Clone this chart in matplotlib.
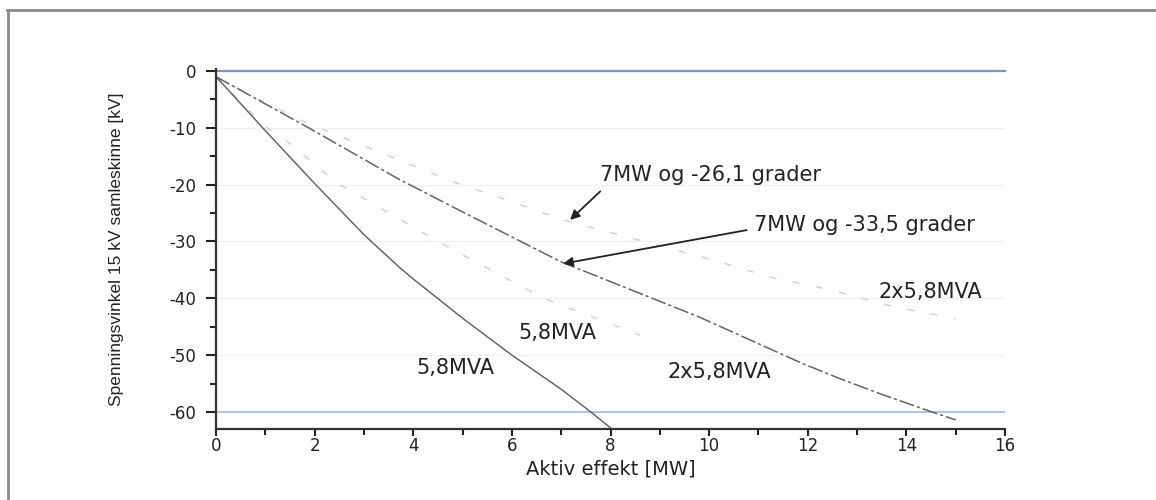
import matplotlib.pyplot as plt
from matplotlib.lines import Line2D
from matplotlib.ticker import MultipleLocator

plt.rcParams["axes.unicode_minus"] = False

#%% data
p_58 = [0, 1, 2, 3, 3.7, 4, 5, 6, 7, 7.6, 8]
v_58 = [-1, -10.5, -19.8, -28.8, -34.4, -36.6, -43.5, -50, -56, -60, -62.8]

p_2x58 = [0, 1.9, 3.7, 5, 7, 9.8, 11.9, 12.7, 13.5, 14.35, 15]
v_2x58 = [-1, -10.1, -19.0, -24.8, -33.6, -43.3, -51.5, -54.3, -56.9, -59.5, -61.4]

# faint red curves
p_58_b = [0, 1.0, 1.4, 2.45, 3.05, 4.5, 6.6, 7.0, 7.8, 8.6]
v_58_b = [-1, -9.8, -12.1, -19.7, -22.7, -30, -39.8, -41.2, -43.8, -46.5]

p_2x58_b = [0, 0.9, 1.7, 2.6, 4.9, 6.0, 7.0, 10.1, 11.2, 12.5, 13.7, 15]
v_2x58_b = [-1, -5.1, -8.6, -11.8, -19.8, -23, -26.1, -33.3, -36.2, -38.6, -41.4, -43.6]

limits = [0, -60]

#%%
fig = plt.figure(figsize=(11.56, 5.0), dpi=100)
ax = fig.add_axes([216/1156, 1 - 429/500, 789/1156, (429 - 69.3)/500])

# scan border
fig.add_artist(Line2D([7/1156, 1], [1 - 10/500, 1 - 10/500], transform=fig.transFigure,
                      color="#8a8a8a", lw=2))
fig.add_artist(Line2D([8/1156, 8/1156], [0, 1 - 10/500], transform=fig.transFigure,
                      color="#8a8a8a", lw=2))

ax.grid(axis="y", color="#f0f0f0", lw=1)
ax.set_axisbelow(True)

ax.axhline(limits[0], color="#6b9bcf", lw=1.6, clip_on=False)
ax.axhline(limits[1], color="#a3c2e0", lw=1.3)

ax.plot(p_2x58_b, v_2x58_b, color="#eab3bb", lw=1, ls=(0, (5, 12)), alpha=0.8)
ax.plot(p_58_b, v_58_b, color="#eab3bb", lw=1, ls=(0, (5, 12)), alpha=0.8)
ax.plot(p_58, v_58, color="#5a5a68", lw=1.0)
ax.plot(p_2x58, v_2x58, color="#62626e", lw=1.1, ls=(0, (10, 2, 2, 2)))

ax.set_xlim(0, 16)
ax.set_ylim(-63, 0.3)
ax.xaxis.set_major_locator(MultipleLocator(2))
ax.xaxis.set_minor_locator(MultipleLocator(1))
ax.yaxis.set_major_locator(MultipleLocator(10))
ax.yaxis.set_minor_locator(MultipleLocator(5))
ax.tick_params(which="major", width=1.5, labelsize=12, colors="#222222")
ax.tick_params(axis="x", which="major", length=5, pad=1)
ax.tick_params(axis="y", which="major", length=7, pad=7)
ax.tick_params(which="minor", length=4, width=1.5, colors="#222222")
ax.set_yticks([0, -10, -20, -30, -40, -50, -60])

for s in ["top", "right"]:
    ax.spines[s].set_visible(False)
for s in ["left", "bottom"]:
    ax.spines[s].set_linewidth(1.6)
    ax.spines[s].set_color("#333333")

ax.set_xlabel("Aktiv effekt [MW]", fontsize=14, labelpad=3, color="#222222")
ax.set_ylabel("Spenningsvinkel 15 kV samleskinne [kV]", fontsize=12.5, labelpad=33,
              color="#222222", family="Liberation Sans")

# labels and arrows
kw = dict(fontsize=15, color="#222222", va="center")
ax.text(7.79, -18.3, "7MW og -26,1 grader", **kw)
ax.text(10.9, -27.1, "7MW og -33,5 grader", **kw)
ax.text(13.43, -38.9, "2x5,8MVA", **kw)
ax.text(9.15, -53.0, "2x5,8MVA", **kw)
ax.text(6.13, -46.1, "5,8MVA", **kw)
ax.text(4.06, -52.3, "5,8MVA", **kw)

ax.annotate("", xy=(7.18, -26.2), xytext=(7.79, -21.2),
            arrowprops=dict(arrowstyle="-|>", color="#222222", lw=1.3, mutation_scale=14,
                            shrinkA=0, shrinkB=0))
ax.annotate("", xy=(7.04, -33.9), xytext=(10.76, -28.0),
            arrowprops=dict(arrowstyle="-|>", color="#222222", lw=1.3, mutation_scale=14,
                            shrinkA=0, shrinkB=0))

fig.savefig("out.png", dpi=100)
